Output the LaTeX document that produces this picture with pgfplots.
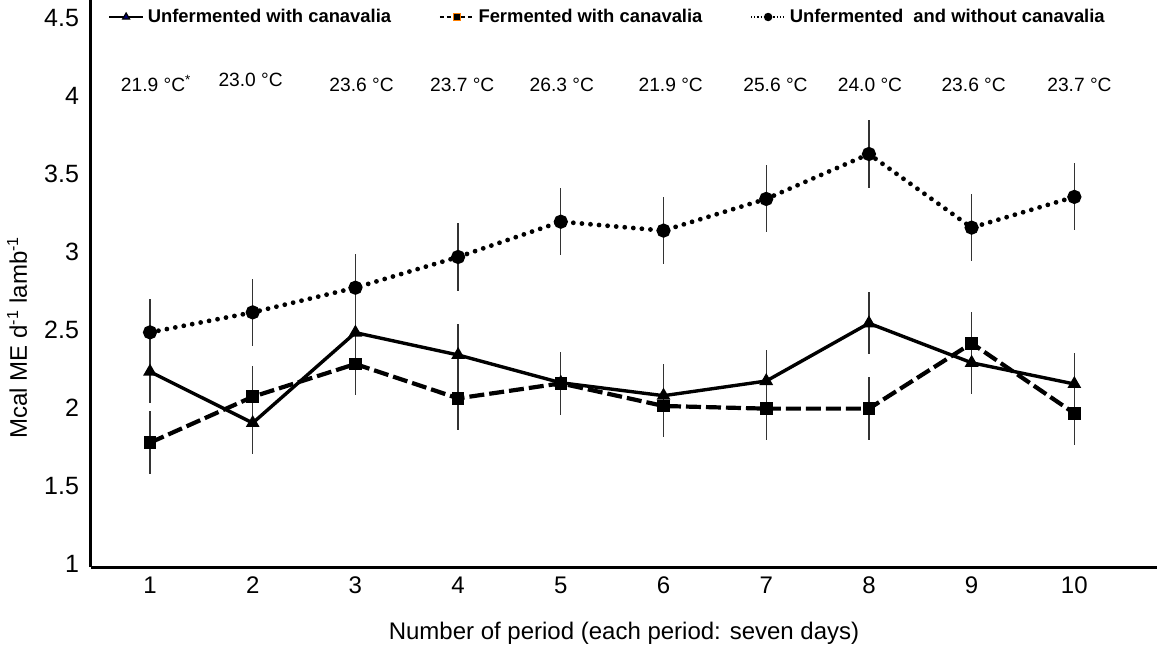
\documentclass[border=0pt]{standalone}
\usepackage{fontspec}
\setmainfont{Liberation Sans}
\usepackage{pgfplots}
\pgfplotsset{compat=1.18}
\usepackage{pgfplotstable}

\pgfplotstableread{
x y e
1 2.233 0.20
2 1.904 0.20
3 2.483 0.20
4 2.340 0.20
5 2.162 0.20
6 2.079 0.20
7 2.173 0.20
8 2.543 0.20
9 2.290 0.20
10 2.154 0.20
}\unferwith

\pgfplotstableread{
x y e
1 1.778 0.20
2 2.072 0.20
3 2.282 0.20
4 2.062 0.20
5 2.158 0.20
6 2.013 0.20
7 1.996 0.20
8 1.996 0.20
9 2.415 0.20
10 1.966 0.20
}\ferwith

\pgfplotstableread{
x y e
1 2.485 0.215
2 2.613 0.215
3 2.771 0.215
4 2.968 0.215
5 3.194 0.215
6 3.137 0.215
7 3.340 0.215
8 3.628 0.215
9 3.156 0.215
10 3.353 0.215
}\unferwithout

\begin{document}
\begin{tikzpicture}
\begin{axis}[
  scale only axis,
  width=533pt, height=283.5pt,
  xmin=0.4255, xmax=10.805,
  ymin=0.981, ymax=4.615,
  axis x line=bottom, axis y line=left,
  axis line style={-, line width=1.5pt, black},
  xtick={1,2,...,10},
  ytick={1,1.5,2,2.5,3,3.5,4,4.5},
  major tick length=0pt,
  /pgf/number format/assume math mode=true,
  yticklabel style={font=\fontsize{12.5}{14}\selectfont, xshift=-2.5pt},
  xticklabel style={font=\fontsize{12}{14}\selectfont, yshift=-1.5pt},
  xlabel={Number of period (each period: seven days)},
  xlabel style={font=\fontsize{12}{14}\selectfont, at={(axis description cs:0.5,0)}, anchor=center, yshift=-33pt},
  ylabel={Mcal ME d\textsuperscript{-1} lamb\textsuperscript{-1}},
  ylabel style={font=\fontsize{12}{14}\selectfont, at={(axis description cs:-0.0694,0.405)}, anchor=center},
  clip=false,
  legend columns=3,
  legend style={draw=none, fill=none, at={(axis description cs:0.016,0.97)}, anchor=west,
    font=\bfseries\fontsize{9.2}{11}\selectfont,
    /tikz/every even column/.append style={column sep=22pt},
    inner sep=0pt},
  legend cell align=left,
]
\addlegendimage{black, line width=0.6pt, mark=triangle*, mark size=2pt, mark options={solid, fill=blue!45!black, draw=black}}
\addlegendentry{Unfermented with canavalia}
\addlegendimage{black, line width=0.6pt, dash pattern=on 2pt off 1.5pt, mark=square*, mark size=1.8pt, mark options={solid, fill=black, draw=orange}}
\addlegendentry{Fermented with canavalia}
\addlegendimage{black, line width=0.6pt, dash pattern=on 0.6pt off 1pt, mark=*, mark size=1.8pt, mark options={solid}}
\addlegendentry{Unfermented\ \ and without canavalia}

\addplot[forget plot, black, line width=2.4pt, line cap=round, dash pattern=on 0pt off 4.3pt,
  mark=*, mark size=2.3pt, mark options={solid},
  error bars/.cd, y dir=both, y explicit,
  error bar style={solid, line width=0.65pt, black!80, line cap=butt}, error mark=none]
  table[x=x, y=y, y error=e] {\unferwithout};

\addplot[forget plot, black, line width=1.7pt,
  mark=triangle*, mark size=2.3pt, mark options={solid},
  error bars/.cd, y dir=both, y explicit,
  error bar style={solid, line width=0.65pt, black!80}, error mark=none]
  table[x=x, y=y, y error=e] {\unferwith};

\addplot[forget plot, black, line width=2.1pt, dash pattern=on 7.5pt off 2.5pt,
  mark=square*, mark size=2.1pt, mark options={solid},
  error bars/.cd, y dir=both, y explicit,
  error bar style={solid, line width=0.65pt, black!80}, error mark=none]
  table[x=x, y=y, y error=e] {\ferwith};

\begin{scope}[every node/.style={font=\fontsize{9.6}{11}\selectfont}]
\node at (axis cs:1.06,4.08) {21.9 °C\textsuperscript{*}};
\node at (axis cs:1.98,4.10) {23.0 °C};
\node at (axis cs:3.06,4.07) {23.6 °C};
\node at (axis cs:4.04,4.07) {23.7 °C};
\node at (axis cs:5.01,4.07) {26.3 °C};
\node at (axis cs:6.07,4.07) {21.9 °C};
\node at (axis cs:7.09,4.07) {25.6 °C};
\node at (axis cs:8.01,4.07) {24.0 °C};
\node at (axis cs:9.02,4.07) {23.6 °C};
\node at (axis cs:10.05,4.07) {23.7 °C};
\end{scope}
\end{axis}
\pgfresetboundingbox
\path (-45.5pt,-41pt) rectangle (534pt,283.5pt);
\end{tikzpicture}
\end{document}
